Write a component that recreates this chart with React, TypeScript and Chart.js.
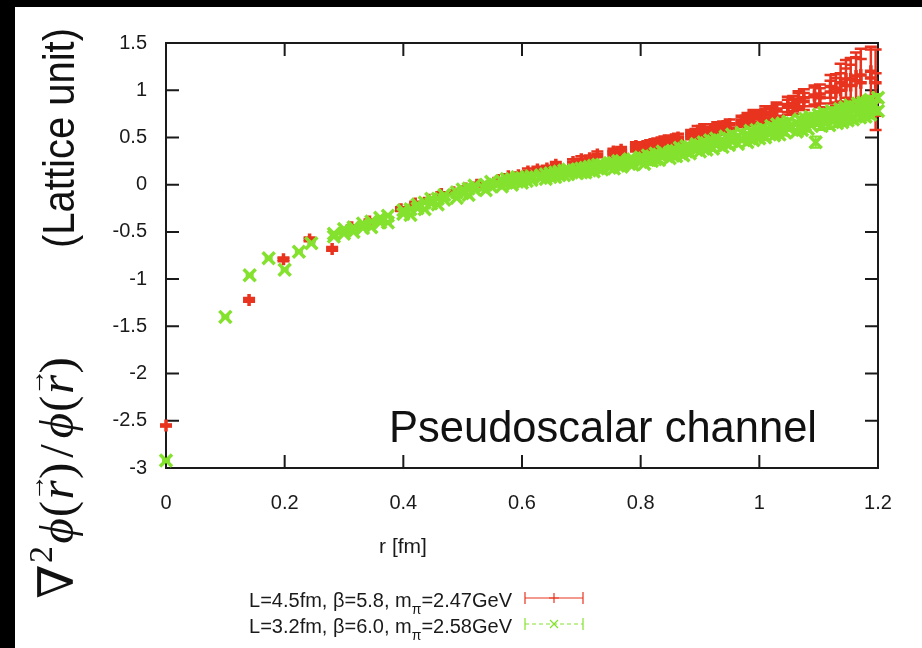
import React, { useEffect, useRef } from "react";
import { Chart, registerables } from "chart.js";

Chart.register(...registerables);

// ---------- tick values & labels ----------
const xTickValues = [0, 0.2, 0.4, 0.6, 0.8, 1, 1.2];
const xTickLabels = ["0", "0.2", "0.4", "0.6", "0.8", "1", "1.2"];
const yTickValues = [-3, -2.5, -2, -1.5, -1, -0.5, 0, 0.5, 1, 1.5];
const yTickLabels = ["-3", "-2.5", "-2", "-1.5", "-1", "-0.5", "0", "0.5", "1", "1.5"];

// ---------- series 1: L=4.5fm, beta=5.8 (red) ----------
const redR = [
  0, 0.14, 0.198, 0.242, 0.28, 0.313, 0.343, 0.396, 0.42, 0.443,
  0.464, 0.485, 0.505, 0.524, 0.56, 0.577, 0.594, 0.61, 0.626, 0.642,
  0.657, 0.686, 0.7, 0.714, 0.727, 0.754, 0.767, 0.792, 0.804, 0.816,
  0.828, 0.84, 0.852, 0.863, 0.885, 0.896, 0.907, 0.918, 0.929, 0.939,
  0.95, 0.97, 0.98, 0.99, 1.0, 1.01, 1.019, 1.029, 1.048, 1.057,
  1.066, 1.075, 1.093, 1.102, 1.12, 1.129, 1.137, 1.146, 1.154, 1.163,
  1.171, 1.188, 1.196,
];
const redV = [
  -2.55, -1.22, -0.79, -0.58, -0.68, -0.45, -0.39, -0.26, -0.2, -0.16,
  -0.1, -0.08, -0.04, 0.0, 0.05, 0.09, 0.1, 0.14, 0.16, 0.17,
  0.21, 0.24, 0.27, 0.28, 0.32, 0.33, 0.37, 0.39, 0.41, 0.43,
  0.43, 0.45, 0.48, 0.47, 0.54, 0.57, 0.56, 0.59, 0.58, 0.62,
  0.6, 0.68, 0.7, 0.71, 0.72, 0.74, 0.76, 0.8, 0.82, 0.86,
  0.88, 0.92, 0.93, 0.96, 0.98, 1.02, 1.08, 1.05, 1.12, 1.1,
  1.16, 1.13, 1.08,
];
const redErr = [
  0.01, 0.02, 0.02, 0.02, 0.02, 0.02, 0.02, 0.02, 0.02, 0.02,
  0.02, 0.02, 0.02, 0.02, 0.02, 0.02, 0.03, 0.03, 0.03, 0.03,
  0.03, 0.03, 0.03, 0.03, 0.03, 0.03, 0.03, 0.04, 0.04, 0.04,
  0.04, 0.04, 0.04, 0.04, 0.04, 0.05, 0.05, 0.05, 0.05, 0.05,
  0.05, 0.05, 0.06, 0.06, 0.06, 0.06, 0.07, 0.07, 0.08, 0.08,
  0.09, 0.09, 0.1, 0.1, 0.12, 0.15, 0.2, 0.18, 0.22, 0.25,
  0.28, 0.3, 0.35,
];
// other lattice directions at the same distances (red, r >= 0.75 fm)
const redR2 = [
  0.754, 0.767, 0.792, 0.804, 0.816, 0.828, 0.84, 0.852, 0.863, 0.885,
  0.896, 0.907, 0.918, 0.929, 0.939, 0.95, 0.97, 0.98, 0.99, 1.0,
  1.01, 1.019, 1.029, 1.048, 1.057, 1.066, 1.075, 1.093, 1.102, 1.12,
  1.129, 1.137, 1.146, 1.154, 1.163, 1.171, 1.188, 1.196,
];
const redV2 = [
  0.35, 0.34, 0.41, 0.38, 0.4, 0.45, 0.47, 0.45, 0.5, 0.52,
  0.54, 0.59, 0.56, 0.61, 0.59, 0.64, 0.66, 0.68, 0.73, 0.7,
  0.77, 0.74, 0.78, 0.85, 0.83, 0.9, 0.88, 0.95, 0.92, 1.04,
  0.98, 1.0, 1.12, 1.05, 1.15, 1.08, 1.2, 0.88,
];
const redErr2 = [
  0.03, 0.03, 0.04, 0.04, 0.04, 0.04, 0.04, 0.04, 0.04, 0.04,
  0.05, 0.05, 0.05, 0.05, 0.05, 0.05, 0.05, 0.06, 0.06, 0.06,
  0.06, 0.07, 0.07, 0.08, 0.08, 0.09, 0.09, 0.1, 0.1, 0.12,
  0.15, 0.18, 0.2, 0.22, 0.25, 0.25, 0.26, 0.3,
];

// ---------- series 2: L=3.2fm, beta=6.0 (green) ----------
const greenR = [
  0, 0.1, 0.141, 0.173, 0.2, 0.224, 0.245, 0.283, 0.3, 0.316,
  0.332, 0.346, 0.361, 0.374, 0.4, 0.412, 0.424, 0.436, 0.447, 0.458,
  0.469, 0.49, 0.5, 0.51, 0.52, 0.539, 0.548, 0.566, 0.574, 0.583,
  0.592, 0.6, 0.608, 0.616, 0.632, 0.64, 0.648, 0.656, 0.663, 0.671,
  0.678, 0.693, 0.7, 0.707, 0.714, 0.721, 0.728, 0.735, 0.748, 0.755,
  0.762, 0.768, 0.781, 0.787, 0.8, 0.806, 0.812, 0.819, 0.825, 0.831,
  0.837, 0.849, 0.854, 0.86, 0.866, 0.872, 0.877, 0.883, 0.894, 0.9,
  0.906, 0.911, 0.917, 0.922, 0.927, 0.938, 0.943, 0.949, 0.954, 0.964,
  0.97, 0.98, 0.985, 0.99, 0.995, 1.0, 1.005, 1.01, 1.02, 1.025,
  1.03, 1.034, 1.039, 1.044, 1.049, 1.063, 1.068, 1.072, 1.077, 1.082,
  1.086, 1.095, 1.1, 1.105, 1.109, 1.118, 1.122, 1.131, 1.136, 1.14,
  1.145, 1.149, 1.153, 1.158, 1.166, 1.17, 1.175, 1.179, 1.183, 1.187,
  1.192, 1.2,
];
const greenV = [
  -2.92, -1.4, -0.96, -0.78, -0.9, -0.71, -0.62, -0.55, -0.47, -0.5,
  -0.41, -0.45, -0.35, -0.4, -0.27, -0.32, -0.21, -0.26, -0.15, -0.21,
  -0.11, -0.14, -0.05, -0.11, -0.01, -0.06, 0.03, -0.02, 0.06, 0.0,
  0.08, 0.02, 0.08, 0.05, 0.1, 0.06, 0.12, 0.08, 0.14, 0.1,
  0.16, 0.12, 0.17, 0.13, 0.19, 0.14, 0.21, 0.16, 0.23, 0.17,
  0.25, 0.19, 0.27, 0.21, 0.29, 0.22, 0.31, 0.25, 0.33, 0.26,
  0.35, 0.28, 0.36, 0.3, 0.39, 0.31, 0.41, 0.33, 0.43, 0.35,
  0.45, 0.37, 0.47, 0.38, 0.49, 0.4, 0.51, 0.42, 0.53, 0.43,
  0.55, 0.45, 0.57, 0.47, 0.58, 0.49, 0.6, 0.5, 0.62, 0.52,
  0.64, 0.53, 0.65, 0.55, 0.67, 0.56, 0.69, 0.58, 0.7, 0.59,
  0.72, 0.45, 0.74, 0.62, 0.76, 0.63, 0.78, 0.65, 0.8, 0.66,
  0.82, 0.68, 0.84, 0.69, 0.86, 0.71, 0.87, 0.72, 0.88, 0.74,
  0.86, 0.78,
];
const greenErr = [
  0.01, 0.01, 0.01, 0.01, 0.01, 0.01, 0.01, 0.01, 0.01, 0.01,
  0.01, 0.01, 0.01, 0.01, 0.01, 0.01, 0.01, 0.01, 0.01, 0.01,
  0.01, 0.01, 0.01, 0.01, 0.01, 0.01, 0.01, 0.01, 0.01, 0.01,
  0.01, 0.01, 0.01, 0.01, 0.01, 0.01, 0.01, 0.01, 0.01, 0.01,
  0.01, 0.01, 0.01, 0.01, 0.01, 0.01, 0.01, 0.01, 0.01, 0.01,
  0.01, 0.01, 0.01, 0.01, 0.02, 0.02, 0.02, 0.02, 0.02, 0.02,
  0.02, 0.02, 0.02, 0.02, 0.02, 0.02, 0.02, 0.02, 0.02, 0.02,
  0.02, 0.02, 0.02, 0.02, 0.02, 0.02, 0.02, 0.02, 0.02, 0.02,
  0.02, 0.02, 0.02, 0.02, 0.02, 0.02, 0.03, 0.03, 0.03, 0.03,
  0.03, 0.03, 0.03, 0.03, 0.03, 0.03, 0.03, 0.03, 0.03, 0.03,
  0.03, 0.06, 0.04, 0.04, 0.04, 0.04, 0.04, 0.04, 0.04, 0.04,
  0.04, 0.04, 0.04, 0.04, 0.04, 0.04, 0.04, 0.04, 0.04, 0.04,
  0.04, 0.04,
];
// other lattice directions at the same distances (green, r >= 0.28 fm)
const greenR2 = greenR.slice(7);
const greenV2 = [
  -0.52, -0.52, -0.45, -0.46, -0.39, -0.4, -0.33, -0.31, -0.26, -0.25,
  -0.19, -0.2, -0.15, -0.16, -0.08, -0.09, -0.04, -0.05, 0.0, -0.02,
  0.04, 0.02, 0.06, 0.03, 0.07, 0.04, 0.09, 0.07, 0.11, 0.08,
  0.13, 0.1, 0.15, 0.11, 0.16, 0.13, 0.18, 0.15, 0.2, 0.17,
  0.21, 0.18, 0.23, 0.2, 0.25, 0.22, 0.27, 0.24, 0.28, 0.26,
  0.3, 0.27, 0.32, 0.3, 0.34, 0.31, 0.36, 0.34, 0.38, 0.35,
  0.4, 0.37, 0.42, 0.39, 0.44, 0.41, 0.46, 0.42, 0.47, 0.44,
  0.49, 0.46, 0.51, 0.48, 0.53, 0.5, 0.55, 0.52, 0.56, 0.53,
  0.58, 0.55, 0.6, 0.57, 0.61, 0.58, 0.63, 0.6, 0.65, 0.62,
  0.67, 0.63, 0.68, 0.64, 0.7, 0.66, 0.71, 0.67, 0.73, 0.69,
  0.75, 0.71, 0.77, 0.72, 0.79, 0.75, 0.81, 0.77, 0.83, 0.78,
  0.85, 0.8, 0.9, 0.83, 0.92,
];
const greenErr2 = greenErr.slice(7);

// ---------- texts ----------
const legendMain = ["L=4.5fm, \u03b2=5.8, m", "L=3.2fm, \u03b2=6.0, m"];
const legendSub = ["\u03c0", "\u03c0"];
const legendTail = ["=2.47GeV", "=2.58GeV"];
const seriesColors = ["#e8341f", "#84e22e"];
const xTitle = "r [fm]";
const yTitleUnit = "(Lattice unit)";
const annotation = "Pseudoscalar channel";

const SANS = "'Liberation Sans', Arial, Helvetica, sans-serif";
const SERIF = "'Liberation Serif', 'DejaVu Serif', 'Times New Roman', serif";

const bgPlugin = {
  id: "bg",
  beforeDraw(chart: any) {
    const { ctx, width, height } = chart;
    ctx.save();
    ctx.fillStyle = "#ffffff";
    ctx.fillRect(0, 0, width, height);
    ctx.fillStyle = "#000000";
    ctx.fillRect(0, 0, width, 7);
    ctx.fillRect(0, 0, 15, height);
    ctx.restore();
  },
};

const framePlugin = {
  id: "frame",
  beforeDatasetsDraw(chart: any) {
    const { ctx, chartArea: a, scales } = chart;
    const x = scales.x, y = scales.y;
    ctx.save();
    ctx.strokeStyle = "#1a1a1a";
    ctx.lineWidth = 2;
    ctx.strokeRect(a.left, a.top, a.right - a.left, a.bottom - a.top);
    ctx.beginPath();
    const L = 13;
    for (const v of xTickValues) {
      const px = x.getPixelForValue(v);
      ctx.moveTo(px, a.bottom);
      ctx.lineTo(px, a.bottom - L);
      ctx.moveTo(px, a.top);
      ctx.lineTo(px, a.top + L);
    }
    for (const v of yTickValues) {
      const py = y.getPixelForValue(v);
      ctx.moveTo(a.left, py);
      ctx.lineTo(a.left + L, py);
      ctx.moveTo(a.right, py);
      ctx.lineTo(a.right - L, py);
    }
    ctx.stroke();
    ctx.restore();
  },
};

const errorBarPlugin = {
  id: "errbars",
  beforeDatasetDraw(chart: any, args: any) {
    const ds: any = chart.data.datasets[args.index];
    const errs: number[] | undefined = ds.errors;
    if (!errs) return;
    const meta = chart.getDatasetMeta(args.index);
    const y = chart.scales.y;
    const ctx = chart.ctx;
    const cap = ds.capHalf || 4;
    ctx.save();
    ctx.strokeStyle = ds.borderColor;
    ctx.lineWidth = ds.errWidth || 2;
    ctx.beginPath();
    meta.data.forEach((pt: any, i: number) => {
      const v = ds.data[i].y;
      const e = errs[i];
      const top = y.getPixelForValue(v + e);
      const bot = y.getPixelForValue(v - e);
      const px = pt.x;
      ctx.moveTo(px, top);
      ctx.lineTo(px, bot);
      ctx.moveTo(px - cap, top);
      ctx.lineTo(px + cap, top);
      ctx.moveTo(px - cap, bot);
      ctx.lineTo(px + cap, bot);
    });
    ctx.stroke();
    ctx.restore();
  },
};

function drawFormula(ctx: CanvasRenderingContext2D, baseX: number, centerY: number, size: number) {
  const up = `${size}px ${SERIF}`;
  const it = `italic ${size}px ${SERIF}`;
  const sup = `${Math.round(size * 0.7)}px ${SERIF}`;
  const arr = `${Math.round(size * 0.55)}px ${SERIF}`;
  const parts: { t: string; f: string; dy?: number; arrow?: boolean; gap?: number }[] = [
    { t: "\u2207", f: up },
    { t: "2", f: sup, dy: -0.42 * size, gap: 0.06 * size },
    { t: "\u03d5", f: it, gap: 0.04 * size },
    { t: "(", f: up },
    { t: "r", f: it, arrow: true, gap: 0.06 * size },
    { t: ")", f: up },
    { t: "/", f: up, gap: 0.2 * size },
    { t: "\u03d5", f: it, gap: 0.04 * size },
    { t: "(", f: up },
    { t: "r", f: it, arrow: true, gap: 0.06 * size },
    { t: ")", f: up },
  ];
  ctx.save();
  let total = 0;
  const widths = parts.map((p) => {
    ctx.font = p.f;
    const w = ctx.measureText(p.t).width + (p.gap || 0);
    total += w;
    return w;
  });
  ctx.translate(baseX, centerY);
  ctx.rotate(-Math.PI / 2);
  ctx.fillStyle = "#111";
  ctx.textBaseline = "alphabetic";
  ctx.textAlign = "left";
  let x = -total / 2;
  parts.forEach((p, i) => {
    ctx.font = p.f;
    const g = p.gap || 0;
    ctx.fillText(p.t, x + g / 2, p.dy || 0);
    if (p.arrow) {
      const w = widths[i] - g;
      ctx.font = arr;
      const aw = ctx.measureText("\u2192").width;
      ctx.fillText("\u2192", x + g / 2 + w / 2 - aw / 2 + 0.04 * size, -0.6 * size);
    }
    x += widths[i];
  });
  ctx.restore();
}

const textPlugin = {
  id: "texts",
  afterDraw(chart: any) {
    const { ctx, chartArea: a } = chart;
    ctx.save();
    // y title, unit line
    ctx.save();
    ctx.translate(62, 138);
    ctx.rotate(-Math.PI / 2);
    ctx.scale(1, 1.12);
    ctx.font = `40px ${SANS}`;
    ctx.fillStyle = "#111";
    ctx.textAlign = "center";
    ctx.textBaseline = "middle";
    ctx.fillText(yTitleUnit, 0, 0);
    ctx.restore();
    // y title, formula
    drawFormula(ctx, 73, 478, 49);
    // x title
    ctx.font = `21px ${SANS}`;
    ctx.fillStyle = "#1a1a1a";
    ctx.textAlign = "center";
    ctx.textBaseline = "middle";
    ctx.fillText(xTitle, a.left + 237, a.bottom + 79);
    // annotation
    ctx.font = `43.5px ${SANS}`;
    ctx.fillStyle = "#111";
    ctx.textAlign = "left";
    ctx.textBaseline = "alphabetic";
    ctx.fillText(annotation, a.left + 223, a.bottom - 26);
    // legend
    const textRight = 512;
    const baselines = [607, 633];
    const sampleL = 525, sampleR = 583;
    for (let i = 0; i < 2; i++) {
      const yb = baselines[i];
      ctx.fillStyle = "#1a1a1a";
      ctx.textAlign = "left";
      ctx.textBaseline = "alphabetic";
      ctx.font = `20px ${SANS}`;
      const tw = ctx.measureText(legendTail[i]).width;
      ctx.font = `14px ${SANS}`;
      const sw = ctx.measureText(legendSub[i]).width;
      ctx.font = `20px ${SANS}`;
      const mw = ctx.measureText(legendMain[i]).width;
      let x = textRight - tw - sw - mw;
      ctx.fillText(legendMain[i], x, yb);
      x += mw;
      ctx.font = `14px ${SANS}`;
      ctx.fillText(legendSub[i], x, yb + 7);
      x += sw;
      ctx.font = `20px ${SANS}`;
      ctx.fillText(legendTail[i], x, yb);
      // sample
      const ym = yb - 9;
      const cx = (sampleL + sampleR) / 2;
      ctx.strokeStyle = seriesColors[i];
      ctx.lineWidth = 1.2;
      ctx.setLineDash(i === 1 ? [4, 3] : []);
      ctx.beginPath();
      ctx.moveTo(sampleL, ym);
      ctx.lineTo(sampleR, ym);
      ctx.stroke();
      ctx.setLineDash([]);
      ctx.beginPath();
      ctx.moveTo(sampleL, ym - 6);
      ctx.lineTo(sampleL, ym + 6);
      ctx.moveTo(sampleR, ym - 6);
      ctx.lineTo(sampleR, ym + 6);
      if (i === 0) {
        ctx.moveTo(cx - 5, ym);
        ctx.lineTo(cx + 5, ym);
        ctx.moveTo(cx, ym - 5);
        ctx.lineTo(cx, ym + 5);
      } else {
        ctx.moveTo(cx - 4, ym - 4);
        ctx.lineTo(cx + 4, ym + 4);
        ctx.moveTo(cx - 4, ym + 4);
        ctx.lineTo(cx + 4, ym - 4);
      }
      ctx.stroke();
    }
    ctx.restore();
  },
};

export default function App() {
  const ref = useRef<HTMLCanvasElement | null>(null);

  useEffect(() => {
    const canvas = ref.current;
    if (!canvas) return;
    const redData = redR
      .map((r, i) => ({ x: r, y: redV[i] }))
      .concat(redR2.map((r, i) => ({ x: r, y: redV2[i] })));
    const redErrAll = redErr.concat(redErr2);
    const greenData = greenR
      .map((r, i) => ({ x: r, y: greenV[i] }))
      .concat(greenR2.map((r, i) => ({ x: r, y: greenV2[i] })));
    const greenErrAll = greenErr.concat(greenErr2);
    const chart = new Chart(canvas, {
      type: "scatter",
      data: {
        datasets: [
          {
            label: legendMain[0] + legendSub[0] + legendTail[0],
            data: redData,
            errors: redErrAll,
            capHalf: 6,
            errWidth: 2.5,
            borderColor: seriesColors[0],
            backgroundColor: seriesColors[0],
            pointStyle: "cross",
            pointRadius: 6,
            pointBorderWidth: 3.5,
            showLine: false,
            clip: false,
            order: 1,
          } as any,
          {
            label: legendMain[1] + legendSub[1] + legendTail[1],
            data: greenData,
            errors: greenErrAll,
            capHalf: 4,
            errWidth: 2,
            borderColor: seriesColors[1],
            backgroundColor: seriesColors[1],
            pointStyle: "crossRot",
            pointRadius: 8.5,
            pointBorderWidth: 3.5,
            showLine: false,
            clip: false,
            order: 0,
          } as any,
        ],
      },
      options: {
        responsive: false,
        animation: false,
        events: [],
        layout: { padding: { left: 0, top: 43, right: 44, bottom: 0 } },
        plugins: {
          legend: { display: false },
          tooltip: { enabled: false },
        },
        scales: {
          x: {
            type: "linear",
            min: 0,
            max: 1.2,
            grid: { display: false, drawTicks: false },
            border: { display: false },
            afterBuildTicks: (scale: any) => {
              scale.ticks = xTickValues.map((v) => ({ value: v }));
            },
            afterFit: (scale: any) => {
              scale.height = 180;
            },
            ticks: {
              autoSkip: false,
              maxRotation: 0,
              padding: 23,
              color: "#1a1a1a",
              font: { family: SANS, size: 20 },
              callback: (_v: any, i: number) => xTickLabels[i],
            },
          },
          y: {
            type: "linear",
            min: -3,
            max: 1.5,
            grid: { display: false, drawTicks: false },
            border: { display: false },
            afterBuildTicks: (scale: any) => {
              scale.ticks = yTickValues.map((v) => ({ value: v }));
            },
            afterFit: (scale: any) => {
              scale.width = 166;
            },
            ticks: {
              autoSkip: false,
              padding: 19,
              color: "#1a1a1a",
              font: { family: SANS, size: 20 },
              callback: (_v: any, i: number) => yTickLabels[i],
            },
          },
        },
      } as any,
      plugins: [bgPlugin, framePlugin, errorBarPlugin, textPlugin],
    });
    return () => chart.destroy();
  }, []);

  return (
    <div style={{ position: "absolute", left: 0, top: 0, width: 922, height: 648 }}>
      <canvas ref={ref} width={922} height={648} style={{ display: "block", width: 922, height: 648 }} />
    </div>
  );
}
